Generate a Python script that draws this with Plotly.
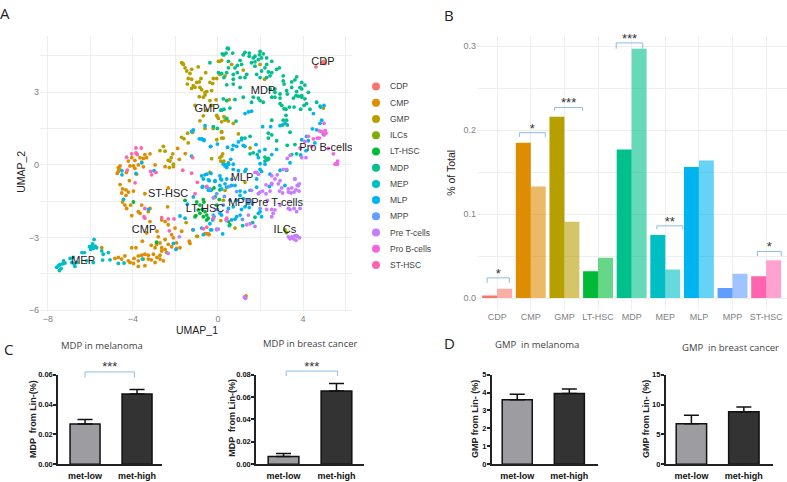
import plotly.graph_objects as go

W, H = 787, 482

# UMAP clusters, values
cdp = [(4.61,4.05),(4.93,4.24),(4.99,4.28),(5.04,4.19)]
gmp = [(-1.71,4.22),(-1.63,4.15),(-1.55,4.01),(-1.47,3.88),(-1.66,4.19),(-1.24,3.95),(-0.93,4.05),(-1.32,3.78),(-0.58,3.81),(-1.40,3.57),
       (-1.24,3.54),(-0.80,3.57),(-0.22,3.57),(-0.06,3.57),(0.02,4.28),(0.17,4.32),(0.09,3.74),(-0.38,3.41),(-0.25,3.36),(-1.44,3.34),
       (-1.16,3.27),(-1.0,3.41),(-0.88,3.43),(-1.08,3.2),(-0.85,3.2),(-0.77,3.11),(-1.24,3.16),(-0.3,3.07),(-0.53,3.03),(-0.61,2.89),
       (-0.69,2.8),(-0.88,2.82),(-1.08,2.46),(-0.38,2.66),(-0.09,2.69),(-0.3,2.46),(-0.53,2.26),(-0.69,2.03),(-0.85,1.82),(-0.06,2.05),
       (0.02,1.92),(0.17,1.78),(0.28,1.99),(-1.71,1.14),(-1.6,1.08),(-1.4,0.91),(-1.43,1.31),(-1.19,1.35),(-0.06,1.04),(0.17,1.35),
       (-0.3,0.26),(0.17,0.36),(0.09,0.3),(0.22,0.46),(0.28,0.16),(-2.57,0.77),(-2.73,0.59),(-2.49,0.57),(-2.13,0.46),(-2.2,0.3),
       (-2.26,0.16),(-2.34,0.19),(-2.1,0.03),(-2.29,-0.11),(-2.1,-0.07),(0.25,4.55),(0.09,4.28),(0.64,4.15),(0.33,3.68),(1.19,3.92),
       (1.98,4.15),(2.19,3.54),(-0.61,3.0),(0.41,2.66),(0.53,2.7),(-0.03,1.99),(0.33,1.85),(0.49,1.81),(0.72,1.72),(-0.61,1.51),
       (-0.22,1.51),(0.17,1.38),(0.17,1.11),(0.25,1.11),(0.96,1.28),(0.13,0.16),(0.25,0.09),(0.49,0.09),(4.96,2.35),(1.51,0.7),
       (-0.38,-0.31),(0.33,-1.05),(1.27,-0.72),(0.13,-2.3),(0.8,-2.61),(-1.0,-2.95),(1.32,-5.41),(0.25,-1.46),(-1.5,-2.38),(-0.97,-2.95)]
cmp_ = [(-4.06,0.3),(-3.67,0.3),(-3.51,0.27),(-3.36,0.3),(-3.2,0.46),(-3.44,0.43),(-3.91,0.19),(-4.22,0.16),(-3.59,0.12),(-2.96,0.0),
        (-2.49,-0.07),(-1.9,0.68),(-1.54,0.47),(-1.82,0.23),(-3.98,-0.04),(-3.75,0.0),(-4.61,-0.04),(-4.69,-0.11),(-3.51,-0.08),(-4.74,-0.35),
        (-4.64,-0.18),(-4.69,-0.27),(-4.14,-0.04),(-3.91,-0.14),(-4.31,-0.31),(-3.83,-0.38),(-4.17,-0.65),(-4.61,-0.81),(-4.49,-0.99),(-4.33,-1.03),
        (-4.53,-1.16),(-4.22,-1.12),(-4.33,-1.26),(-3.98,-1.08),(-3.44,-1.19),(-4.49,-1.53),(-4.38,-1.66),(-4.3,-1.8),(-4.11,-1.66),(-4.06,-2.09),
        (-3.75,-1.93),(-3.67,-2.0),(-3.59,-1.66),(-3.2,-1.8),(-3.28,-1.93),(-2.34,-0.95),(-2.37,-1.73),(-3.2,-2.34),(-2.65,-2.27),(-2.49,-2.34),
        (-2.34,-2.47),(-3.36,-2.81),(-2.87,-2.74),(-2.02,-2.61),(-1.71,-2.74),(-2.18,-2.88),(-2.81,-2.97),(-3.56,-3.15),(-2.49,-3.08),(-2.1,-3.01),
        (-3.14,-3.32),(-2.89,-3.28),(-2.73,-3.22),(-2.96,-3.42),(-1.95,-3.22),(-2.34,-3.28),(-2.18,-3.38),(-2.65,-3.42),(-2.49,-3.49),(-4.06,-3.42),
        (-3.86,-3.42),(-5.47,-3.42),(-1.79,-3.42),(-1.95,-3.45),(-2.42,-3.62),(-2.65,-3.55),(-4.85,-3.86),(-4.69,-3.82),(-4.38,-3.76),(-4.53,-3.89),
        (-4.22,-3.96),(-3.95,-3.86),(-3.75,-3.76),(-3.59,-3.73),(-3.44,-3.69),(-3.28,-3.73),(-3.04,-3.69),(-3.75,-3.96),(-3.51,-3.89),(-3.28,-3.89),
        (-3.14,-3.92),(-3.75,-4.19),(-3.44,-4.16),(-3.98,-4.07),(-4.14,-4.03),(-2.96,-4.03),(-2.73,-3.89),(-2.57,-3.96),(-2.87,-3.82),(-2.73,-3.73),
        (-1.35,-3.15),(-1.32,-3.24),(-0.53,-2.84),(-0.42,-2.88),(-1.19,-2.68),(-0.61,-2.84),(-0.45,-2.85)]
ilcs = [(3.15,-2.68),(3.22,-2.8)]
lt_hsc = [(-3.98,-1.53),(-0.3,-1.03),(0.09,-1.03),(-0.69,-1.43),(-0.66,-1.53),(-0.14,-1.32),(-1.0,-1.53),(-0.85,-1.66),(-0.74,-1.84),(-0.93,-1.86),
          (-1.04,-2.09),(-0.85,-2.0),(-0.61,-1.93),(-0.53,-2.07),(-0.46,-2.2),(-1.08,-2.14),(-0.69,-2.14),(-0.53,-2.27),(-1.55,-1.46),(-0.06,-1.66),
          (0.56,-2.47),(0.49,-2.34),(-2.89,-3.19),(-0.19,-0.95),(0.06,-1.43)]
mdp = [(0.49,4.8),(0.69,4.62),(0.38,4.62),(1.19,4.55),(1.27,4.65),(1.47,4.62),(1.47,4.49),(1.66,4.42),(1.98,4.69),(1.95,4.55),
       (1.74,4.49),(2.13,4.59),(2.29,4.42),(2.05,4.42),(1.9,4.35),(1.04,4.32),(1.74,4.26),(1.58,4.22),(1.11,4.15),(0.91,4.11),
       (0.8,4.01),(1.74,4.08),(2.29,4.15),(2.53,4.28),(2.89,4.01),(2.76,3.95),(2.21,4.01),(2.05,3.88),(1.82,3.74),(2.37,3.84),
       (2.53,3.81),(2.45,3.68),(2.29,3.61),(1.98,3.61),(1.35,3.74),(1.27,3.61),(0.91,3.81),(0.72,3.74),(0.41,3.81),(0.49,4.01),
       (0.72,3.54),(0.72,3.34),(0.41,3.31),(1.04,3.61),(1.04,3.2),(3.07,3.68),(3.07,3.47),(3.11,3.34),(3.47,3.43),(3.62,3.51),
       (3.7,3.64),(3.94,3.41),(4.09,3.3),(3.47,3.2),(3.86,3.2),(3.94,3.14),(3.7,3.03),(3.23,3.07),(3.26,2.93),(2.68,3.14),
       (2.45,3.14),(2.68,3.0),(2.92,2.93),(2.92,2.76),(2.68,2.8),(2.53,2.8),(3.67,2.86),(3.78,2.84),(3.94,2.86),(4.25,3.0),
       (3.94,2.8),(3.55,2.76),(4.09,2.73),(4.17,2.53),(4.05,2.46),(4.64,2.59),(4.8,2.43),(4.33,2.3),(3.89,2.3),(3.58,2.39),
       (3.36,2.39),(3.0,2.46),(3.11,2.32),(2.92,2.53),(3.2,2.3),(1.66,2.8),(1.58,2.59),(1.98,2.66),(2.13,2.59),(1.9,2.76),
       (1.19,2.8),(0.8,2.7),(0.56,2.35),(0.13,2.26),(0.28,2.3),(0.85,1.81),(3.2,2.05),(3.07,1.85),(3.23,1.85),(3.04,1.65),
       (3.26,1.65),(3.39,1.35),(2.37,1.31),(2.53,1.24),(2.37,1.11),(2.76,1.0),(3.26,0.81),(3.62,0.84),(1.51,1.18),(1.27,1.11),
       (1.11,1.11),(1.51,0.46),(1.66,0.5),(1.85,0.43),(2.21,0.32),(2.37,0.23),(2.21,0.16),(3.47,0.43),(3.7,0.46),(4.96,1.27),
       (2.53,1.85),(-0.38,4.22),(0.2,4.59),(0.28,4.55),(0.02,3.81),(0.17,3.78),(0.28,3.61),(0.44,4.82),(0.49,4.28),(0.41,2.66),
       (0.25,2.73),(0.17,2.26),(0.41,1.92),(-0.03,1.51),(-0.22,1.58),(2.29,0.2),(2.37,0.27),(3.23,-0.22),(0.53,-2.51),(1.16,-2.51),
       (1.63,-2.38),(1.74,-2.16)]
mep = [(-7.59,-4.23),(-7.51,-4.16),(-7.46,-4.36),(-7.38,-4.27),(-7.32,-4.09),(-7.27,-3.96),(-7.2,-4.05),(-7.44,-4.12),(-6.96,-3.86),(-6.88,-4.03),
       (-6.77,-4.09),(-6.73,-4.19),(-6.65,-4.03),(-6.81,-3.82),(-6.4,-3.62),(-6.29,-3.62),(-6.05,-3.38),(-5.99,-3.49),(-5.94,-3.35),(-5.83,-3.08),
       (-5.9,-3.26),(-5.78,-3.35),(-5.71,-3.42),(-5.87,-3.45),(-5.47,-3.55),(-5.4,-3.69),(-5.43,-3.93),(-5.16,-3.62),(-5.08,-3.92),(-5.87,-4.03),
       (-6.18,-3.96),(-4.69,-4.07),(-4.42,-4.05),(-3.56,-3.89)]
mlp = [(1.27,2.12),(1.43,2.19),(1.58,2.22),(2.1,1.58),(2.48,1.58),(2.92,1.62),(3.15,1.72),(4.49,2.12),(4.88,1.85),(4.8,1.72),
       (4.44,1.49),(4.64,1.45),(4.56,0.91),(4.17,1.18),(4.25,1.0),(3.94,1.04),(3.89,0.41),(4.14,0.59),(4.99,2.46),(4.83,2.39),
       (-0.77,1.08),(-0.66,1.04),(-0.34,0.77),(-0.03,0.86),(0.25,0.03),(0.38,0.0),(0.49,0.05),(0.41,-0.11),(0.72,0.81),(0.88,0.77),
       (0.96,0.95),(1.11,1.04),(1.19,0.81),(1.27,0.77),(0.67,0.64),(0.6,0.23),(0.72,0.03),(1.79,0.84),(1.95,0.57),(2.21,0.64),
       (1.9,0.3),(1.98,0.05),(2.21,0.03),(2.53,0.43),(2.76,0.64),(3.39,0.09),(-0.77,-0.45),(-0.61,-0.41),(-0.41,-0.65),(-0.14,-0.65),
       (0.09,-0.45),(0.33,-0.78),(0.96,-0.24),(1.27,-0.27),(1.98,-0.18),(-0.61,1.62),(-1.16,1.45),(-1.24,1.38),(-0.88,1.08),(-0.77,1.07),
       (-0.66,1.01),(-0.35,0.76),(0.45,0.73),(-1.24,0.36),(-3.59,0.09),(0.49,0.03),(0.33,-0.04),(0.41,-0.08),(-4.52,-0.24),(-4.52,-0.41),
       (-3.86,-0.35),(-3.01,-0.24),(-0.33,-0.35),(-0.69,-0.58),(-0.45,-0.62),(0.17,-0.62),(0.41,-0.58),(0.09,-0.85),(0.41,-0.92),(-0.74,-0.92),
       (-0.45,-1.05),(-1.16,-1.32),(-4.45,-1.42),(-3.27,-1.84),(-1.44,-1.62),(-1.79,-2.11),(-1.55,-2.2),(-1.16,-2.68),(-0.77,-2.61),(-0.35,-2.68),
       (0.22,-2.85),(-0.69,-2.88),(-2.1,-3.24),(-1.98,-3.49),(-0.53,-0.38),(-0.14,-0.68),(0.13,-0.58),(0.72,-0.18),(1.32,-0.18),(1.82,-0.58),
       (2.05,-0.27),(2.45,-0.38),(2.92,-0.22),(-0.72,-0.89),(-0.53,-0.92),(-0.35,-1.05),(0.17,-0.99),(0.64,-0.85),(0.8,-0.85),(1.04,-1.26),
       (1.27,-1.12),(1.51,-1.05),(1.82,-0.92),(1.04,-1.08),(2.42,-0.89),(3.15,-0.85),(0.88,-1.46),(1.19,-1.39),(1.43,-1.59),(1.47,-1.76),
       (1.11,-1.84),(0.72,-1.73),(0.49,-1.8),(0.09,-2.0),(-0.19,-2.14),(-0.25,-2.27),(0.17,-2.07),(0.64,-2.27),(0.88,-2.14),(1.04,-2.07),
       (1.9,-2.0),(2.05,-2.14),(1.98,-1.93),(-0.38,-2.43),(-0.3,-2.68),(-0.06,-2.65),(0.8,-2.24),(1.27,-1.73)]
mpp = [(0.53,-0.89),(-0.22,-1.36),(0.25,-1.66),(1.98,-1.8),(-0.38,-0.99),(-0.06,-1.19),(0.56,-1.46),(1.43,-1.46),(-0.22,-2.07),(-0.03,-1.84),
       (0.88,-1.1),(0.3,-1.3),(1.6,-1.6),(1.15,-2.25),(0.65,-0.6)]
pre_t = [(1.74,-0.31),(1.9,-0.38),(2.53,-0.45),(2.79,-0.41),(2.68,-0.58),(2.84,-0.78),(2.53,-0.81),(2.26,-0.82),(3.0,-0.95),(3.31,-0.99),
         (3.47,-0.95),(3.62,-0.58),(3.73,-0.85),(3.83,-0.78),(3.67,-1.03),(3.81,-1.08),(3.31,-1.12),(3.44,-1.16),(3.58,-1.12),(1.98,-1.12),
         (2.1,-1.08),(1.9,-1.19),(1.58,-1.05),(2.26,-1.19),(2.45,-1.08),(2.89,-1.08),(3.04,-1.16),(2.32,-1.46),(2.53,-1.84),(2.68,-1.86),
         (2.6,-2.0),(2.53,-2.14),(2.29,-1.84),(2.92,-1.66),(3.39,-1.84),(3.58,-1.8),(3.86,-1.8),(3.31,-1.8),(3.7,-1.93),(1.35,-2.47),
         (1.51,-2.43),(1.74,-2.54),(0.38,-2.27),(0.41,-2.3),(0.44,-1.93),(1.43,-2.07),(3.31,-2.97),(3.47,-2.97),(3.62,-2.92),(3.73,-2.95),
         (3.83,-3.01),(3.67,-3.11),(3.55,-3.05),(3.39,-3.05),(3.7,-2.92),(1.27,-5.49),(1.24,-5.45),(1.3,-5.51),(-0.19,-1.36),(-0.06,-2.68),
         (0.02,-2.65),(-1.82,-2.97),(-2.34,-3.65),(3.39,0.39),(3.26,0.27),(3.94,0.3),(4.14,0.3),(3.07,-0.18),(3.23,-0.18),(3.62,-0.58),
         (3.78,-0.85),(1.82,-0.31),(2.53,-0.76),(2.92,-0.65)]
pro_b = [(4.99,1.72),(4.88,1.38),(5.04,1.42),(5.08,1.31),(4.99,1.24),(4.77,1.41),(4.49,1.08),(4.67,1.11),(4.77,1.11),(4.25,1.18),
         (4.09,0.97),(5.19,0.68),(5.43,0.46),(5.55,0.05),(5.63,0.16),(5.62,0.03),(5.51,0.03),(3.86,0.7),(4.41,0.77)]
st_hsc = [(-3.86,0.7),(-3.61,0.7),(-4.3,0.32),(-3.86,0.5),(-3.8,0.43),(-4.06,0.46),(-1.19,0.3),(-4.27,-0.22),(-3.17,-0.27),(-3.12,-0.41),
          (-2.92,-0.31),(-1.66,-0.22),(-1.24,-0.34),(-0.97,-0.72),(-0.53,-0.89),(-1.08,-1.19),(-3.9,-0.74),(-3.44,-1.8),(-3.48,-2.14),(-3.44,-2.2),
          (-2.65,-2.18),(-2.34,-2.23),(-2.07,-2.23),(-2.29,-2.72),(-0.69,-2.64),(-0.22,-2.2),(-0.53,-2.57),(0.41,-2.2)]

cluster_names = ['CDP','CMP','GMP','ILCs','LT-HSC','MDP','MEP','MLP','MPP','Pre T-cells','Pro B-cells','ST-HSC']
cluster_colors = ['#F8766D','#DE8C00','#B79F00','#7CAE00','#00BA38','#00C08B','#00BFC4','#00B4F0','#619CFF','#C77CFF','#F564E3','#FF64B0']
cluster_points = [cdp, cmp_, gmp, ilcs, lt_hsc, mdp, mep, mlp, mpp, pre_t, pro_b, st_hsc]

label_names = ['CDP','MDP','GMP','Pro B-cells','MLP','ST-HSC','LT-HSC','MPP','Pre T-cells','CMP','ILCs','MEP']
label_x = [4.94,2.12,-0.52,5.08,1.13,-2.35,-0.61,1.04,2.78,-3.48,3.15,-6.35]
label_y = [4.26,3.03,2.31,0.69,-0.57,-1.22,-1.82,-1.58,-1.58,-2.68,-2.68,-3.99]

# panel B
b_cats = ['CDP','CMP','GMP','LT-HSC','MDP','MEP','MLP','MPP','ST-HSC']
b_low = [0.003,0.185,0.216,0.032,0.177,0.075,0.156,0.012,0.026]
b_high = [0.011,0.133,0.091,0.048,0.297,0.034,0.164,0.029,0.045]
b_colors = ['#F8766D','#DE8C00','#B79F00','#00BA38','#00C08B','#00BFC4','#00B4F0','#619CFF','#FF64B0']
b_light = ['rgba(248,118,109,0.6)','rgba(222,140,0,0.6)','rgba(183,159,0,0.6)','rgba(0,186,56,0.6)','rgba(0,192,139,0.6)',
           'rgba(0,191,196,0.6)','rgba(0,180,240,0.6)','rgba(97,156,255,0.6)','rgba(255,100,176,0.6)']
# x0, x1, bottom, top, stars
b_brackets = [(-0.3,0.36,0.018,0.024,'*'),(0.66,1.43,0.192,0.197,'*'),(1.71,2.54,0.223,0.227,'***'),
              (3.54,4.33,0.297,0.304,'***'),(4.75,5.52,0.082,0.086,'**'),(7.74,8.45,0.050,0.0555,'*')]

# panels C and D
groups = ['met-low','met-high']
mdp_mel = [0.027,0.047]
mdp_mel_err = [0.003,0.003]
mdp_brca = [0.007,0.0655]
mdp_brca_err = [0.0027,0.0065]
gmp_mel = [3.6,3.95]
gmp_mel_err = [0.3,0.25]
gmp_brca = [6.8,8.8]
gmp_brca_err = [1.4,0.8]

GRID = '#eeeeee'
TICK = '#7f7f7f'
FONT = 'Liberation Sans'


def dom_x(a, b):
    return [a / W, b / W]


def dom_y(top, bottom):
    return [1 - bottom / H, 1 - top / H]


fig = go.Figure()
ann = []


def txt(s, px, py, size=11, color='#222222', angle=0, family=FONT, anchor='center', bold=False):
    ann.append(dict(text=s, x=px / W, y=1 - py / H, xref='paper', yref='paper', showarrow=False, xanchor=anchor,
                    yanchor='middle', textangle=angle, font=dict(size=size, color=color, family=family,
                                                                 weight='bold' if bold else 'normal')))


# panel A
for name, color, pts in zip(cluster_names, cluster_colors, cluster_points):
    fig.add_trace(go.Scatter(x=[p[0] for p in pts], y=[p[1] for p in pts], mode='markers', name=name,
                             marker=dict(size=3.8, color=color), xaxis='x', yaxis='y'))
fig.add_trace(go.Scatter(x=label_x, y=label_y, text=label_names, mode='text', xaxis='x', yaxis='y',
                         textposition='middle center', textfont=dict(size=11, color='#222222', family=FONT)))

# legend of panel A, on its own hidden axes because plotly's legend rows can't get this tight
fig.add_trace(go.Scatter(x=[0] * 12, y=list(range(12)), mode='markers', xaxis='x7', yaxis='y7',
                         marker=dict(size=8, color=cluster_colors)))
for i, name in enumerate(cluster_names):
    txt(name, 388, 84 + i * 16.55, size=8.5, color='#444444', anchor='left')

# panel B
fig.add_trace(go.Bar(x=list(range(9)), y=b_low, width=0.445, offset=-0.445, marker=dict(color=b_colors, line_width=0),
                     xaxis='x2', yaxis='y2'))
fig.add_trace(go.Bar(x=list(range(9)), y=b_high, width=0.445, offset=0, marker=dict(color=b_light, line_width=0),
                     xaxis='x2', yaxis='y2'))
BRACKET = '#8dbbe8'


def bracket(xa, ya, x0, x1, low, top, stars, star_y):
    fig.add_trace(go.Scatter(x=[x0, x0, x1, x1], y=[low, top, top, low], mode='lines', xaxis=xa, yaxis=ya,
                             line=dict(color=BRACKET, width=1), cliponaxis=False))
    fig.add_trace(go.Scatter(x=[(x0 + x1) / 2], y=[star_y], text=[stars], mode='text', xaxis=xa, yaxis=ya,
                             textposition='middle center', textfont=dict(size=13, color='#333333', family=FONT),
                             cliponaxis=False))


for x0, x1, low, top, stars in b_brackets:
    bracket('x2', 'y2', x0, x1, low, top, stars, top + 0.004)

# panels C and D: low bar grey, high bar nearly black
small = [
    ('x3', 'y3', mdp_mel, mdp_mel_err, 0.577),
    ('x4', 'y4', mdp_brca, mdp_brca_err, 0.58),
    ('x5', 'y5', gmp_mel, gmp_mel_err, 0.577),
    ('x6', 'y6', gmp_brca, gmp_brca_err, 0.58),
]
for xa, ya, vals, errs, bw in small:
    fig.add_trace(go.Bar(x=[0, 1], y=vals, width=bw, xaxis=xa, yaxis=ya,
                         marker=dict(color=['#9d9ca1', '#333333'], line=dict(color='#111111', width=1.5)),
                         error_y=dict(type='data', symmetric=False, array=errs, arrayminus=[0, 0],
                                      color='#111111', thickness=1.5, width=7.5)))
# the brackets of C sit above the axis top, so they get taller hidden axes at the same scale
bracket('x8', 'y8', 0.0, 0.95, 0.058, 0.0618, '***', 0.0644)
bracket('x9', 'y9', 0.05, 1.02, 0.0788, 0.0832, '***', 0.0859)

# plot background stays transparent, the hidden bracket axes lie over the bars of C
layout = dict(
    width=W, height=H, margin=dict(l=0, r=0, t=0, b=0), plot_bgcolor='rgba(0,0,0,0)', paper_bgcolor='white',
    showlegend=False, barmode='overlay', font=dict(family=FONT),
)

layout['xaxis'] = dict(domain=dom_x(40, 352), range=[-8.376, 6.306], tick0=-8, dtick=4, showgrid=True, gridcolor=GRID,
                       gridwidth=1, zeroline=False, tickfont=dict(size=9, color=TICK), ticks='', anchor='y',
                       minor=dict(tick0=-8, dtick=2, showgrid=True, gridcolor=GRID, gridwidth=1))
layout['yaxis'] = dict(domain=dom_y(33, 314), range=[-6.08, 5.31], tick0=-6, dtick=3, showgrid=True, gridcolor=GRID,
                       gridwidth=1, zeroline=False, tickfont=dict(size=9, color=TICK), ticks='', anchor='x',
                       minor=dict(tick0=-6, dtick=1.5, showgrid=True, gridcolor=GRID, gridwidth=1))
layout['xaxis7'] = dict(domain=dom_x(366, 386), range=[-1, 1], visible=False, anchor='y7')
layout['yaxis7'] = dict(domain=dom_y(76, 274), range=[11.48, -0.483], visible=False, anchor='x7')

layout['xaxis2'] = dict(domain=dom_x(477, 787), range=[-0.6, 8.62], tickvals=list(range(9)), ticktext=b_cats, showgrid=True,
                        gridcolor=GRID, zeroline=False, tickfont=dict(size=9, color=TICK), ticks='', anchor='y2')
layout['yaxis2'] = dict(domain=dom_y(33, 312), range=[-0.0145, 0.3118], tick0=0, dtick=0.1, showgrid=True, gridcolor=GRID,
                        zeroline=False, tickfont=dict(size=9, color=TICK), ticks='', anchor='x2', tickformat='.1f',
                        minor=dict(tick0=0, dtick=0.05, showgrid=True, gridcolor=GRID))

small_axes = [
    (3, 58, 162, [-0.52, 1.48], [0, 0.06], 0.02, '.2f'),
    (4, 256, 364, [-0.52, 1.52], [0, 0.08], 0.02, '.2f'),
    (5, 491.7, 598, [-0.49, 1.55], [0, 5], 1, 'd'),
    (6, 665.7, 772.7, [-0.49, 1.55], [0, 15], 5, 'd'),
]
for n, left, right, xr, yr, dt, fmt in small_axes:
    layout[f'xaxis{n}'] = dict(domain=dom_x(left, right), range=xr, tickvals=[0, 1], ticktext=groups, anchor=f'y{n}',
                               showline=True, linecolor='#222222', linewidth=1.5, showgrid=False, zeroline=False,
                               ticks='', ticklabelstandoff=2, tickfont=dict(size=9, color='#111111', family=FONT, weight='bold'))
    layout[f'yaxis{n}'] = dict(domain=dom_y(377.7, 469), range=yr, tick0=0, dtick=dt, tickformat=fmt, anchor=f'x{n}',
                               showline=True, linecolor='#222222', linewidth=1.5, showgrid=False, zeroline=False,
                               ticks='outside', ticklen=3, tickwidth=1.5, tickcolor='#222222', ticklabelstandoff=-1,
                               tickfont=dict(size=7.5, color='#111111', family=FONT, weight='bold'))

layout['xaxis8'] = dict(domain=dom_x(58, 162), range=[-0.52, 1.48], visible=False, anchor='y8')
layout['yaxis8'] = dict(domain=dom_y(360, 469), range=[0, 0.0716], visible=False, anchor='x8')
layout['xaxis9'] = dict(domain=dom_x(256, 364), range=[-0.52, 1.52], visible=False, anchor='y9')
layout['yaxis9'] = dict(domain=dom_y(360, 469), range=[0, 0.0955], visible=False, anchor='x9')

# free text
txt('A', 5, 9, size=15, color='#222222', family='Open Sans')
txt('B', 449, 11, size=15, color='#222222', family='Open Sans')
txt('C', 8, 352, size=15, color='#222222', family='Open Sans')
txt('D', 449, 345, size=15, color='#222222', family='Open Sans')
txt('UMAP_1', 197, 332, size=10.5)
txt('UMAP_2', 21, 171, size=10.5, angle=-90)
txt('% of Total', 451, 172, size=10.5, angle=-90)
txt('MDP in melanoma', 102, 348, size=9.5, color='#444444', family='Open Sans')
txt('MDP in breast cancer', 310, 346, size=9.5, color='#444444', family='Open Sans')
txt('GMP  in melanoma', 537, 347, size=9.5, color='#444444', family='Open Sans')
txt('GMP  in breast cancer', 730, 350, size=9.5, color='#444444', family='Open Sans')
txt('MDP  from Lin-(%)', 33, 423, size=9, angle=-90, bold=True)
txt('MDP  from Lin-(%)', 231.7, 422, size=9, angle=-90, bold=True)
txt('GMP from Lin- (%)', 475, 423, size=9, angle=-90, bold=True)
txt('GMP from Lin- (%)', 646, 423, size=9, angle=-90, bold=True)

layout['annotations'] = ann
fig.update_layout(**layout)
fig.write_html("out.html", config={'displayModeBar': False}, post_script="document.body.style.margin='0';")
